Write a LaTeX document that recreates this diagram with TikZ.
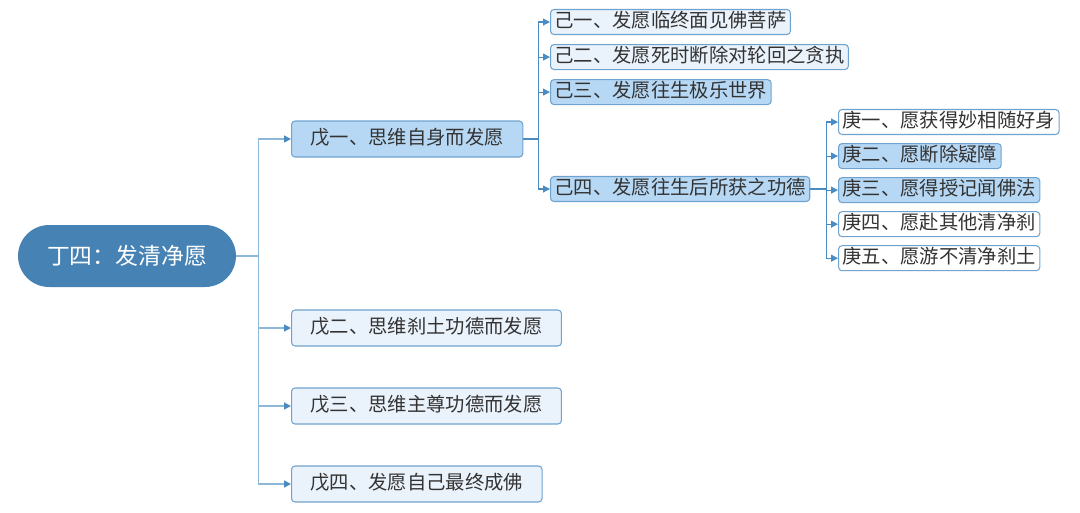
\documentclass[tikz,border=0pt]{standalone}
\usepackage{fontspec}
\setmainfont{Noto Sans CJK SC}
\usepackage{tikz}
\usetikzlibrary{arrows.meta, positioning, calc}
\definecolor{rootblue}{HTML}{4682B4}
\definecolor{darkfill}{HTML}{B7D8F4}
\definecolor{palefill}{HTML}{EAF2FB}
\definecolor{boxline}{HTML}{6FA3CF}
\definecolor{trunkblue}{HTML}{8CB8DA}
\definecolor{linkblue}{HTML}{4A8BC2}
\definecolor{txtgray}{HTML}{333333}

\begin{document}
\begin{tikzpicture}[
    x=0.02cm, y=-0.02cm,
    root/.style={rectangle, rounded corners=0.62cm, fill=rootblue, text=white, minimum width=4.36cm, minimum height=1.24cm, font=\fontsize{13}{15}\selectfont},
    topic/.style={rectangle, rounded corners=2pt, draw=boxline, line width=0.6pt, anchor=west, inner xsep=0.38cm, inner ysep=0pt, text height=9pt, text depth=2.5pt, minimum height=0.72cm, text=txtgray, font=\fontsize{11}{13}\selectfont},
    subtopic/.style={rectangle, rounded corners=2pt, draw=boxline, line width=0.6pt, anchor=west, inner xsep=0.08cm, inner ysep=0pt, text height=9pt, text depth=2.5pt, minimum height=0.5cm, text=txtgray, font=\fontsize{11}{13}\selectfont},
    dark/.style={fill=darkfill},
    pale/.style={fill=palefill},
    blank/.style={fill=white},
    trunk/.style={-{Triangle[length=1.4mm, width=1.4mm, color=linkblue]}, draw=trunkblue, line width=0.8pt},
    arrow/.style={-{Triangle[length=1.4mm, width=1.4mm]}, draw=linkblue, line width=0.6pt}
    ]
    \useasboundingbox (0,0) rectangle (1080,512);

    % Nodes
    \node[root] (ding) at (127,256) {丁四：发清净愿};
    \node[topic, dark] (wu1) at (291,139) {戊一、思维自身而发愿};
    \node[topic, pale] (wu2) at (291,328) {戊二、思维刹土功德而发愿};
    \node[topic, pale] (wu3) at (291,406) {戊三、思维主尊功德而发愿};
    \node[topic, pale] (wu4) at (291,484) {戊四、发愿自己最终成佛};

    \node[subtopic, pale] (ji1) at (550,22) {己一、发愿临终面见佛菩萨};
    \node[subtopic, pale, below=0.18cm of ji1.south west, anchor=north west] (ji2) {己二、发愿死时断除对轮回之贪执};
    \node[subtopic, dark, below=0.18cm of ji2.south west, anchor=north west] (ji3) {己三、发愿往生极乐世界};
    \node[subtopic, dark] (ji4) at (550,189) {己四、发愿往生后所获之功德};

    \node[subtopic, blank] (geng1) at (838,122) {庚一、愿获得妙相随好身};
    \node[subtopic, dark, below=0.16cm of geng1.south west, anchor=north west] (geng2) {庚二、愿断除疑障};
    \node[subtopic, dark, below=0.16cm of geng2.south west, anchor=north west] (geng3) {庚三、愿得授记闻佛法};
    \node[subtopic, blank, below=0.16cm of geng3.south west, anchor=north west] (geng4) {庚四、愿赴其他清净刹};
    \node[subtopic, blank, below=0.16cm of geng4.south west, anchor=north west] (geng5) {庚五、愿游不清净刹土};

    % Edges
    \foreach \n in {wu1, wu2, wu3, wu4}
        \draw[trunk] (ding.east) -- ++(22,0) |- (\n.west);
    \foreach \n in {ji1, ji2, ji3, ji4}
        \draw[arrow] (wu1.east) -- ++(15,0) |- (\n.west);
    \foreach \n in {geng1, geng2, geng3, geng4, geng5}
        \draw[arrow] (ji4.east) -- ++(16,0) |- (\n.west);
\end{tikzpicture}
\end{document}
